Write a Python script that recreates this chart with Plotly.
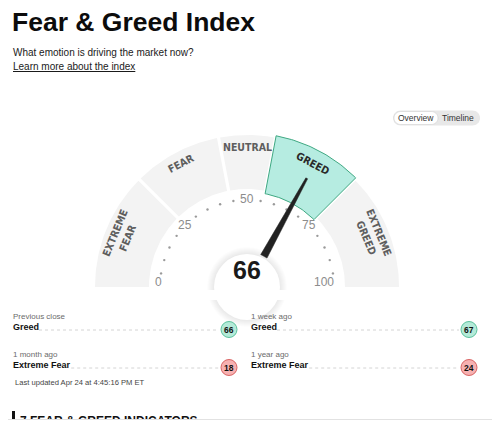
import math
import plotly.graph_objects as go

# ---------------- data ----------------
segment_bounds = [0, 25, 44, 56, 75, 100]
segment_labels = ["EXTREME<br>FEAR", "FEAR", "NEUTRAL", "GREED", "EXTREME<br>GREED"]
tick_values = [0, 25, 50, 75, 100]
tick_labels = ["0", "25", "50", "75", "100"]
dot_values = [5, 10, 15, 20, 30, 35, 40, 45, 55, 60, 65, 70, 80, 85, 90, 95]
current_value = 66

history_labels = ["Previous close", "1 week ago", "1 month ago", "1 year ago"]
history_ratings = ["Greed", "Greed", "Extreme Fear", "Extreme Fear"]
history_values = [66, 67, 18, 24]

# ---------------- geometry / style ----------------
W, H = 500, 421
OFF = 8  # page body margin; axes are offset so data coords equal screen pixels
CX, CY = 247, 287
R_IN, R_OUT = 98, 152
GAP = 1.6
FONT = "Liberation Sans, Arial, Helvetica, sans-serif"
COND = "DejaVu Sans Condensed, Liberation Sans Narrow, Arial Narrow, sans-serif"


def ang(v):
    return math.radians(180 - 1.8 * v)


def pt(v_or_a, r, is_angle=False):
    a = v_or_a if is_angle else ang(v_or_a)
    return CX + r * math.cos(a), CY - r * math.sin(a)


def sector(a_val, b_val, r_in, r_out, gap_a, gap_b, n=40):
    A = ang(a_val)
    B = ang(b_val)
    xs, ys = [], []
    a0 = A - gap_a / r_out
    b0 = B + gap_b / r_out
    for i in range(n + 1):
        t = a0 + (b0 - a0) * i / n
        x, y = pt(t, r_out, True)
        xs.append(x); ys.append(y)
    a1 = A - gap_a / r_in
    b1 = B + gap_b / r_in
    for i in range(n + 1):
        t = b1 + (a1 - b1) * i / n
        x, y = pt(t, r_in, True)
        xs.append(x); ys.append(y)
    xs.append(xs[0]); ys.append(ys[0])
    return xs, ys


fig = go.Figure()
shapes = []
ann = []

active = None
for i in range(len(segment_labels)):
    if segment_bounds[i] <= current_value < segment_bounds[i + 1]:
        active = i

# gauge segments
for i in range(len(segment_labels)):
    a, b = segment_bounds[i], segment_bounds[i + 1]
    ga = 0 if a == segment_bounds[0] else GAP
    gb = 0 if b == segment_bounds[-1] else GAP
    if i == active:
        xs, ys = sector(a, b, 95, 154, 0.3, 0.3)
        fig.add_trace(go.Scatter(x=xs, y=ys, mode="lines", fill="toself",
                                 fillcolor="#b6ece1", line=dict(color="#3fa882", width=1),
                                 hoverinfo="skip", showlegend=False))
    else:
        xs, ys = sector(a, b, R_IN, R_OUT, ga, gb)
        fig.add_trace(go.Scatter(x=xs, y=ys, mode="lines", fill="toself",
                                 fillcolor="#f3f3f3", line=dict(color="#f3f3f3", width=0),
                                 hoverinfo="skip", showlegend=False))
    mid = (a + b) / 2
    two = "<br>" in segment_labels[i]
    r_lab = 136 if two else 140
    x, y = pt(mid, r_lab)
    ann.append(dict(x=x, y=y, xref="x", yref="y", text="<b>" + segment_labels[i] + "</b>",
                    showarrow=False, textangle=90 - (180 - 1.8 * mid),
                    font=dict(family=COND, size=10.5,
                              color="#2a2a2a" if i == active else "#5e5e5e"),
                    xanchor="center", yanchor="middle"))

# tick dots
dx, dy = [], []
for v in dot_values:
    x, y = pt(v, 87)
    dx.append(x); dy.append(y)
fig.add_trace(go.Scatter(x=dx, y=dy, mode="markers",
                         marker=dict(size=2.4, color="#9a9a9a"),
                         hoverinfo="skip", showlegend=False))

# tick labels
for v, t in zip(tick_values, tick_labels):
    x, y = pt(v, 88)
    xa = "center"
    if v == tick_values[0]:
        x, y = CX - 89, CY - 5
    if v == tick_values[-1]:
        x, y, xa = CX + 89, CY - 5, "right"
    ann.append(dict(x=x, y=y, xref="x", yref="y", text=t, showarrow=False,
                    font=dict(family=FONT, size=12, color="#8c8c8c"),
                    xanchor=xa, yanchor="middle"))

# center circle with soft shadow
for k in range(7, 0, -1):
    r = 33 + k
    shapes.append(dict(type="circle", xref="x", yref="y", x0=CX - r, x1=CX + r,
                       y0=CY - r, y1=CY + r, fillcolor="rgba(0,0,0,0.012)",
                       line=dict(width=0), layer="below"))
shapes.append(dict(type="circle", xref="x", yref="y", x0=CX - 33, x1=CX + 33,
                   y0=CY - 33, y1=CY + 33, fillcolor="white", line=dict(width=0), layer="below"))
shapes.append(dict(type="rect", xref="x", yref="y", x0=150, x1=350, y0=290, y1=300,
                   fillcolor="white", line=dict(width=0), layer="below"))

# needle
a = ang(current_value)
px, py = -math.sin(a), -math.cos(a)
ux, uy = math.cos(a), -math.sin(a)
r0, r1 = 35, 124
w0, w1 = 3.6, 1.0
bx, by = CX + ux * r0, CY + uy * r0
tx, ty = CX + ux * r1, CY + uy * r1
nx = [bx + px * w0, tx + px * w1, tx - px * w1, bx - px * w0, bx + px * w0]
ny = [by + py * w0, ty + py * w1, ty - py * w1, by - py * w0, by + py * w0]
fig.add_trace(go.Scatter(x=nx, y=ny, mode="lines", fill="toself", fillcolor="#222222",
                         line=dict(color="#222222", width=0.5), hoverinfo="skip", showlegend=False))

ann.append(dict(x=CX, y=270, xref="x", yref="y", text="<b>%d</b>" % current_value,
                showarrow=False, font=dict(family=FONT, size=25, color="#1a1a1a"),
                xanchor="center", yanchor="middle"))

# ---------------- header ----------------
ann.append(dict(x=10, y=22, xref="x", yref="y", text="<b>Fear &amp; Greed Index</b>",
                showarrow=False, font=dict(family=FONT, size=26.5, color="#0c0c0c"),
                xanchor="left", yanchor="middle"))
ann.append(dict(x=11, y=52, xref="x", yref="y", text="What emotion is driving the market now?",
                showarrow=False, font=dict(family=FONT, size=10, color="#1a1a1a"),
                xanchor="left", yanchor="middle"))
ann.append(dict(x=11, y=66, xref="x", yref="y", text="<u>Learn more about the index</u>",
                showarrow=False, font=dict(family=FONT, size=10, color="#1a1a1a"),
                xanchor="left", yanchor="middle"))


def rrect(x0, y0, x1, y1, r, n=8):
    pts = []
    corners = [(x1 - r, y0 + r, -90, 0), (x1 - r, y1 - r, 0, 90),
               (x0 + r, y1 - r, 90, 180), (x0 + r, y0 + r, 180, 270)]
    for ccx, ccy, s, e in corners:
        for i in range(n + 1):
            t = math.radians(s + (e - s) * i / n)
            pts.append((ccx + r * math.cos(t), ccy + r * math.sin(t)))
    return "M" + " L".join(f"{x:.2f},{y:.2f}" for x, y in pts) + " Z"


shapes.append(dict(type="path", xref="x", yref="y", path=rrect(393, 110.5, 480, 125.5, 7.5),
                   fillcolor="#e8e8e8", line=dict(width=0), layer="below"))
shapes.append(dict(type="path", xref="x", yref="y", path=rrect(394, 111.5, 438, 124.5, 6.5),
                   fillcolor="white", line=dict(color="#d0d0d0", width=0.6), layer="below"))
ann.append(dict(x=416, y=118, xref="x", yref="y", text="Overview", showarrow=False,
                font=dict(family=FONT, size=8.5, color="#333"), xanchor="center", yanchor="middle"))
ann.append(dict(x=458, y=118, xref="x", yref="y", text="Timeline", showarrow=False,
                font=dict(family=FONT, size=8.5, color="#333"), xanchor="center", yanchor="middle"))

# ---------------- history ----------------
col_x = [12, 250, 12, 250]
row_y = [316, 316, 354, 354]
badge_x = [229, 469, 229, 469]
for lab, rating, val, x, y, bxx in zip(history_labels, history_ratings, history_values,
                                       col_x, row_y, badge_x):
    ann.append(dict(x=x - 1, y=y, xref="x", yref="y", text=lab, showarrow=False,
                    font=dict(family=FONT, size=8, color="#6b6b6b"),
                    xanchor="left", yanchor="middle"))
    ann.append(dict(x=x - 1, y=y + 11, xref="x", yref="y", text="<b>%s</b>" % rating,
                    showarrow=False, font=dict(family=FONT, size=9, color="#111"),
                    xanchor="left", yanchor="middle"))
    tw = len(rating) * 4.6 + 4
    shapes.append(dict(type="line", xref="x", yref="y", x0=x + tw, x1=bxx - 10,
                       y0=y + 14, y1=y + 14, line=dict(color="#d4d4d4", width=1, dash="dot")))
    seg = 0
    for i in range(len(segment_labels)):
        if segment_bounds[i] <= val < segment_bounds[i + 1]:
            seg = i
    if seg >= 3:
        fc, lc = "#b3ead8", "#5cc29d"
    elif seg <= 1:
        fc, lc = "#f6b1b1", "#d96464"
    else:
        fc, lc = "#e6e6e6", "#aaaaaa"
    cyb = y + 13.5
    shapes.append(dict(type="circle", xref="x", yref="y", x0=bxx - 8, x1=bxx + 8,
                       y0=cyb - 8, y1=cyb + 8, fillcolor=fc, line=dict(color=lc, width=1)))
    ann.append(dict(x=bxx, y=cyb, xref="x", yref="y", text="<b>%d</b>" % val,
                    showarrow=False, font=dict(family=FONT, size=8.5, color="#111"),
                    xanchor="center", yanchor="middle"))

ann.append(dict(x=13, y=382, xref="x", yref="y", text="Last updated Apr 24 at 4:45:16 PM ET",
                showarrow=False, font=dict(family=FONT, size=7.6, color="#444"),
                xanchor="left", yanchor="middle"))

# bottom section header (cut off by the window edge, as in the reference)
fig.add_trace(go.Scatter(x=[20], y=[422], mode="text", text=["<b>7 FEAR &amp; GREED INDICATORS</b>"],
                         textposition="middle right",
                         textfont=dict(family=FONT, size=12, color="#111"),
                         hoverinfo="skip", showlegend=False, cliponaxis=True))
shapes.append(dict(type="rect", xref="x", yref="y", x0=12, x1=15, y0=411, y1=421,
                   fillcolor="#111", line=dict(width=0), layer="above"))
shapes.append(dict(type="rect", xref="x", yref="y", x0=0, x1=500, y0=419, y1=421,
                   fillcolor="white", line=dict(width=0), layer="above"))
shapes.append(dict(type="line", xref="x", yref="y", x0=0, x1=500, y0=419.5, y1=419.5,
                   line=dict(color="#e2e2e2", width=1), layer="above"))

fig.update_layout(
    width=W - OFF, height=H - OFF, margin=dict(l=0, r=0, t=0, b=0, pad=0),
    paper_bgcolor="white", plot_bgcolor="white",
    xaxis=dict(range=[OFF, W], visible=False, fixedrange=True),
    yaxis=dict(range=[H, OFF], visible=False, fixedrange=True),
    shapes=shapes, annotations=ann, showlegend=False,
)
fig.write_html("out.html", config={"displayModeBar": False})
